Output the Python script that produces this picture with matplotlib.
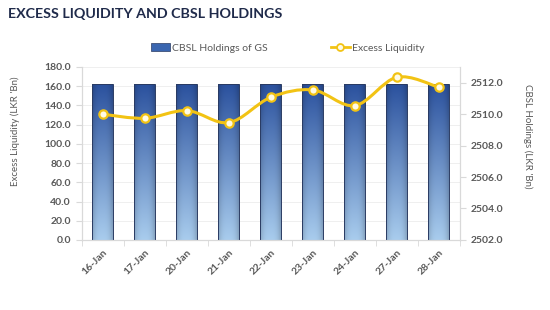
import numpy as np
import matplotlib.pyplot as plt
from matplotlib.path import Path
from matplotlib.patches import PathPatch
from matplotlib.lines import Line2D
from matplotlib.patches import Patch

# ---- data ----
dates = ["16-Jan", "17-Jan", "20-Jan", "21-Jan", "22-Jan",
         "23-Jan", "24-Jan", "27-Jan", "28-Jan"]
cbsl_holdings = [2511.9, 2511.9, 2511.9, 2511.9, 2511.9,
                 2511.9, 2511.9, 2511.9, 2511.9]          # right axis
excess_liquidity = [130.8, 126.6, 134.6, 122.1, 148.5,
                    156.1, 139.8, 169.3, 158.9]           # left axis

left_ticks = [0, 20, 40, 60, 80, 100, 120, 140, 160, 180]
right_ticks = [2502, 2504, 2506, 2508, 2510, 2512]

GOLD = "#F2C314"
TXT = "#595959"
AXC = "#D9D9D9"


def smooth_path(xs, ys, k=1 / 6):
    # Catmull-Rom style bezier through the points (Excel "smoothed line")
    xs = np.asarray(xs, float)
    ys = np.asarray(ys, float)
    verts = [(xs[0], ys[0])]
    codes = [Path.MOVETO]
    n = len(xs)
    for i in range(n - 1):
        p0 = i - 1 if i > 0 else i
        p3 = i + 2 if i + 2 < n else i + 1
        c1 = (xs[i] + (xs[i + 1] - xs[p0]) * k, ys[i] + (ys[i + 1] - ys[p0]) * k)
        c2 = (xs[i + 1] - (xs[p3] - xs[i]) * k, ys[i + 1] - (ys[p3] - ys[i]) * k)
        verts += [c1, c2, (xs[i + 1], ys[i + 1])]
        codes += [Path.CURVE4] * 3
    return Path(verts, codes)


fig = plt.figure(figsize=(5.5, 3.1), dpi=100)
plt.rcParams["font.family"] = ["Lato", "DejaVu Sans"]

ax = fig.add_axes([0.149, 0.226, 0.687, 0.558])   # bars, right scale
axl = ax.twinx()                                   # line, left scale
ax.yaxis.tick_right()
ax.yaxis.set_label_position("right")
axl.yaxis.tick_left()
axl.yaxis.set_label_position("left")
ax.set_zorder(1)
axl.set_zorder(2)
axl.patch.set_visible(False)

x = np.arange(len(dates))
ax.set_xlim(-0.5, len(dates) - 0.5)
ax.set_ylim(2502, 2513)
axl.set_ylim(0, 180)

# faint gridlines at left-axis ticks, drawn behind the bars
for t in left_ticks:
    ax.axhline(2502 + t * 11 / 180, color="#EDEDED", lw=0.6, zorder=0)

# gradient bars
bars = ax.bar(x, np.array(cbsl_holdings) - 2502, bottom=2502, width=0.5,
              color="none", edgecolor="#2A3B63", lw=0.7, zorder=3)
top_c = np.array([0.17, 0.32, 0.62])
bot_c = np.array([0.66, 0.80, 0.93])
h, w = 100, 30
t = np.linspace(1, 0, h)[:, None, None]
u = np.linspace(-1, 1, w)[None, :, None]
img = bot_c * (1 - t) + top_c * t
img = img * (1 - 0.18 * np.abs(u) ** 3)
img = np.clip(img, 0, 1)
for b in bars:
    x0, y0 = b.get_x(), b.get_y()
    im = ax.imshow(img, extent=(x0, x0 + b.get_width(), y0, y0 + b.get_height()),
                   aspect="auto", zorder=2, interpolation="bicubic")
    im.set_clip_path(b)
ax.set_xlim(-0.5, len(dates) - 0.5)
ax.set_ylim(2502, 2513)

# smoothed excess liquidity line
axl.add_patch(PathPatch(smooth_path(x, excess_liquidity), fill=False,
                        edgecolor=GOLD, lw=2.2, zorder=4))
axl.plot(x, excess_liquidity, ls="none", marker="o", ms=6,
         mfc="#FFFBE6", mec=GOLD, mew=1.6, zorder=5)

# axes styling
for a in (ax, axl):
    a.spines["top"].set_visible(False)
    for s in ("left", "right", "bottom"):
        a.spines[s].set_color(AXC)
        a.spines[s].set_linewidth(0.8)

ax.set_yticks(right_ticks)
ax.set_yticklabels([f"{v:.1f}" for v in right_ticks])
axl.set_yticks(left_ticks)
axl.set_yticklabels([f"{v:.1f}" for v in left_ticks])
ax.set_xticks(x)
ax.set_xticklabels(dates, rotation=45, ha="right", rotation_mode="anchor")
ax.set_xticks(np.arange(-0.5, len(dates)), minor=True)
ax.tick_params(axis="x", which="major", length=0, pad=6,
               labelsize=7.5, labelcolor=TXT)
ax.tick_params(axis="x", which="minor", length=4, color=AXC)
ax.tick_params(axis="y", length=4, color=AXC, labelsize=7.5,
               labelcolor=TXT, pad=3.5)
axl.tick_params(axis="y", length=4, color=AXC, labelsize=7.5,
                labelcolor=TXT, pad=4)
for lab in ax.get_xticklabels() + ax.get_yticklabels() + axl.get_yticklabels():
    lab.set_fontweight("bold")

axl.set_ylabel("Excess Liquidity (LKR 'Bn)", fontsize=7, color=TXT)
axl.yaxis.set_label_coords(-0.165, 0.627)
ax.set_ylabel("CBSL Holdings (LKR 'Bn)", fontsize=7, color=TXT, rotation=270,
              va="center")
ax.yaxis.set_label_coords(1.18, 0.60)

fig.text(0.015, 0.955, "EXCESS LIQUIDITY AND CBSL HOLDINGS", fontsize=10.3,
         fontweight="bold", color="#1F2A4A", va="center", ha="left")

handles = [Patch(facecolor="#3A66B0", edgecolor="#2A3B63", lw=0.5),
           Line2D([], [], color=GOLD, lw=2, marker="o", ms=5,
                  mfc="#FFFBE6", mec=GOLD, mew=1.3)]
fig.legend(handles, ["CBSL Holdings of GS", "Excess Liquidity"],
           loc="center", bbox_to_anchor=(0.523, 0.845), ncol=2, frameon=False,
           fontsize=7.5, labelcolor=TXT, columnspacing=6.1, handlelength=1.8,
           handletextpad=0.2)

fig.savefig("out.png", dpi=100)
